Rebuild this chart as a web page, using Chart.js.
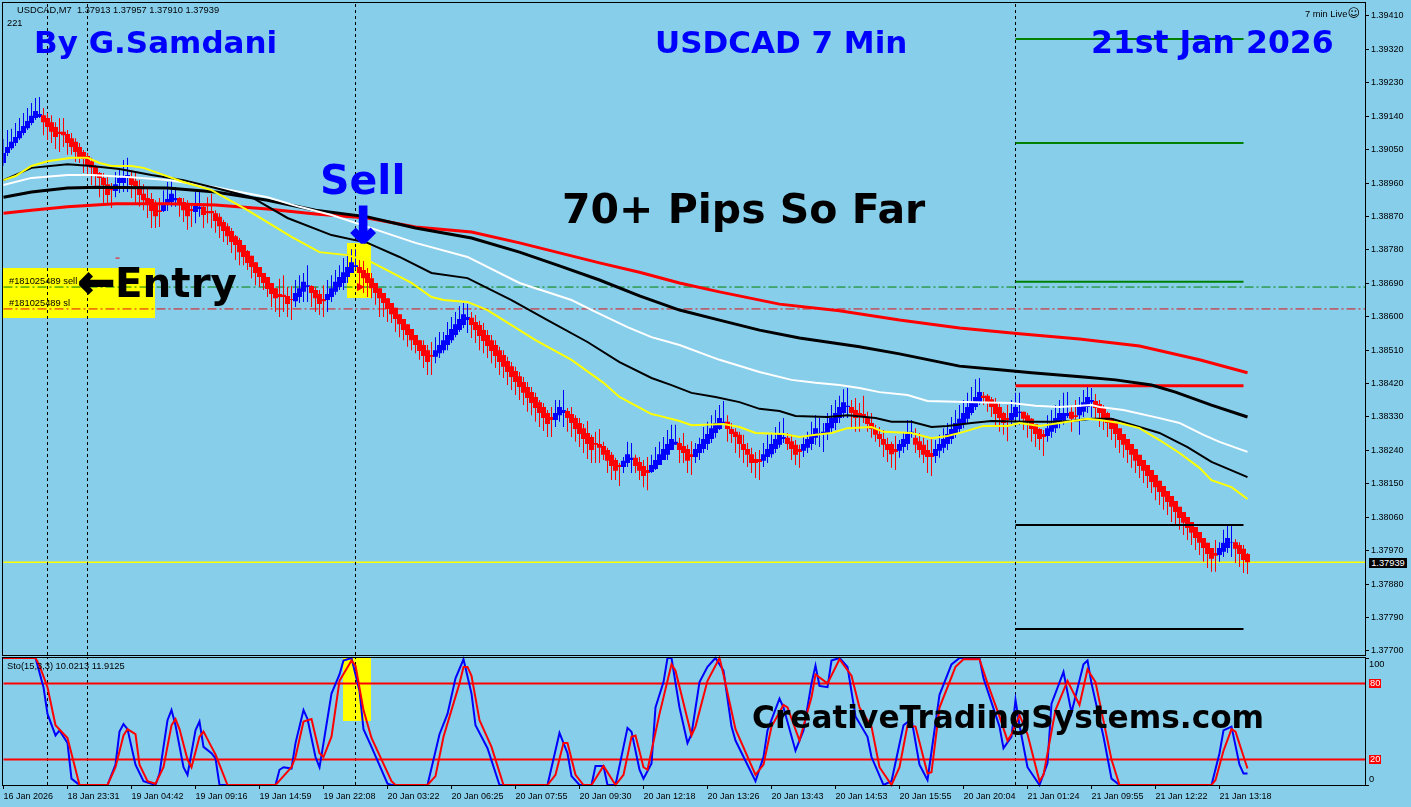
<!DOCTYPE html>
<html>
<head>
<meta charset="utf-8">
<title>USDCAD 7 Min</title>
<script src="https://cdn.jsdelivr.net/npm/chart.js@4/dist/chart.umd.min.js"></script>
<style>
  html, body { margin: 0; padding: 0; width: 1411px; height: 807px; overflow: hidden; background: #87ceeb; }
  canvas { position: absolute; left: 0; z-index: 2; }
  .box { position: absolute; background: #ffff00; z-index: 1; }
  .txt { position: absolute; white-space: nowrap; line-height: 1; z-index: 3; font-family: "Liberation Sans", Arial, sans-serif; }
  .big { font-family: "DejaVu Sans", sans-serif; font-weight: bold; }
  .small { font-size: 9.3px; color: #000; }
</style>
</head>
<body>
<div class="box" style="left:3px;top:268px;width:152px;height:50px"></div>
<div class="box" style="left:347px;top:243px;width:24px;height:55px"></div>
<div class="box" style="left:343px;top:657px;width:28px;height:64px"></div>
<canvas id="priceChart" width="1411" height="657" style="top:0"></canvas>
<canvas id="stoChart" width="1411" height="152" style="top:655px"></canvas>

<div class="txt small" style="left:17px;top:6px">USDCAD,M7&nbsp;&nbsp;1.37913 1.37957 1.37910 1.37939</div>
<div class="txt small" style="left:7px;top:19px">221</div>
<div class="txt small" style="left:1305px;top:7px">7 min Live<span style="font-family:'DejaVu Sans';font-size:12px">&#9786;</span></div>
<div class="txt small" style="left:7px;top:662px">Sto(15,3,3) 10.0213 11.9125</div>
<div class="txt small" style="left:9px;top:277px">#181025489 sell</div>
<div class="txt small" style="left:9px;top:299px">#181025489 sl</div>
<div class="txt small" style="left:1369px;top:558px;width:38px;height:10px;background:#000;color:#fff;text-align:center;line-height:10px">1.37939</div>
<div class="txt small" style="left:1369px;top:660px">100</div>
<div class="txt small" style="left:1369px;top:679px;background:#ff0000;color:#fff;padding:0 1px">80</div>
<div class="txt small" style="left:1369px;top:755px;background:#ff0000;color:#fff;padding:0 1px">20</div>
<div class="txt small" style="left:1369px;top:775px">0</div>

<div class="txt big" style="left:34px;top:27px;font-size:31px;color:#0000ff">By G.Samdani</div>
<div class="txt big" style="left:655px;top:27px;font-size:31px;color:#0000ff">USDCAD 7 Min</div>
<div class="txt big" style="left:1091px;top:27px;font-size:31.5px;color:#0000ff">21st Jan 2026</div>
<div class="txt big" style="left:320px;top:160px;font-size:41px;color:#0000ff">Sell</div>
<div class="txt big" style="left:562px;top:189px;font-size:41px;color:#000">70+ Pips So Far</div>
<div class="txt big" style="left:115px;top:263px;font-size:40.4px;color:#000">Entry</div>
<div class="txt big" style="left:752px;top:702px;font-size:31.2px;color:#000">CreativeTradingSystems.com</div>
<div class="txt big" style="left:78px;top:260px;font-size:44px;color:#000;-webkit-text-stroke:2px #000">&#8592;</div>
<div class="txt big" style="left:343px;top:201px;font-size:48px;color:#0000ff;-webkit-text-stroke:3px #0000ff">&#8595;</div>

<script>
// candles, in points above 1.37000
const opens = [2014,2041,2054,2068,2081,2095,2108,2122,2135,2138,
  2143,2135,2124,2111,2098,2098,2092,2081,2071,2057,
  2044,2033,2019,2003,1987,1974,1957,1947,1939,1960,
  1960,1974,1974,1966,1952,1931,1920,1917,1901,1887,
  1885,1901,1909,1914,1920,1909,1901,1890,1882,1890,
  1896,1885,1885,1879,1869,1855,1844,1831,1817,1807,
  1793,1777,1764,1747,1734,1718,1707,1691,1677,1661,
  1659,1656,1648,1642,1653,1667,1680,1683,1672,1661,
  1648,1645,1653,1667,1680,1691,1707,1718,1734,1734,
  1726,1718,1704,1691,1677,1664,1650,1637,1624,1607,
  1594,1580,1567,1551,1537,1524,1510,1497,1492,1502,
  1510,1524,1537,1551,1564,1578,1591,1597,1586,1578,
  1564,1551,1537,1524,1510,1497,1481,1467,1454,1440,
  1424,1411,1397,1384,1370,1357,1341,1330,1322,1335,
  1341,1346,1338,1327,1314,1300,1287,1276,1260,1257,
  1252,1241,1228,1214,1201,1195,1206,1214,1220,1209,
  1198,1187,1182,1190,1201,1214,1228,1241,1255,1260,
  1252,1244,1230,1222,1233,1244,1257,1271,1287,1298,
  1309,1317,1298,1290,1282,1257,1244,1230,1217,1217,
  1212,1222,1230,1244,1255,1271,1274,1265,1255,1244,
  1239,1247,1257,1274,1282,1284,1287,1300,1314,1327,
  1341,1357,1357,1349,1341,1338,1330,1314,1298,1284,
  1271,1257,1257,1244,1239,1249,1257,1284,1274,1265,
  1255,1241,1233,1225,1239,1247,1257,1271,1284,1298,
  1311,1325,1341,1357,1370,1387,1387,1378,1370,1357,
  1341,1327,1322,1330,1341,1344,1335,1325,1311,1298,
  1284,1279,1290,1300,1314,1322,1333,1344,1335,1335,
  1344,1357,1370,1373,1365,1354,1341,1327,1314,1300,
  1284,1271,1257,1244,1228,1214,1201,1187,1174,1158,
  1144,1131,1117,1104,1088,1074,1061,1047,1034,1020,
  1004,991,977,964,958,967,977,991,993,985,
  975,961];
const closes = [2041,2057,2071,2084,2100,2114,2127,2141,2154,2146,
  2124,2111,2098,2084,2092,2089,2068,2057,2044,2030,
  2025,2009,2001,1984,1974,1955,1928,1941,1957,1974,
  1976,1982,1955,1952,1928,1914,1901,1885,1871,1882,
  1906,1917,1931,1920,1901,1887,1871,1885,1898,1896,
  1874,1879,1879,1858,1844,1831,1817,1801,1793,1774,
  1761,1745,1734,1718,1707,1691,1675,1661,1650,1653,
  1653,1634,1645,1664,1677,1694,1685,1664,1650,1634,
  1642,1661,1677,1694,1707,1720,1734,1747,1739,1718,
  1704,1691,1677,1664,1650,1637,1621,1607,1594,1580,
  1564,1551,1537,1524,1508,1494,1478,1492,1510,1524,
  1537,1551,1567,1580,1594,1607,1599,1578,1564,1548,
  1535,1521,1508,1494,1478,1465,1451,1438,1424,1411,
  1395,1381,1368,1354,1341,1327,1311,1322,1341,1357,
  1349,1327,1314,1298,1284,1271,1257,1241,1255,1247,
  1228,1212,1198,1185,1195,1212,1230,1220,1198,1185,
  1171,1179,1201,1214,1230,1244,1257,1271,1263,1241,
  1233,1212,1222,1244,1257,1271,1284,1300,1314,1327,
  1317,1298,1284,1276,1257,1241,1228,1206,1206,1209,
  1230,1244,1257,1271,1284,1276,1257,1244,1228,1236,
  1257,1271,1282,1300,1287,1290,1314,1327,1341,1357,
  1370,1360,1341,1327,1333,1330,1311,1298,1282,1271,
  1255,1241,1230,1236,1257,1271,1284,1290,1255,1241,
  1228,1222,1222,1244,1257,1271,1284,1298,1314,1325,
  1341,1357,1370,1384,1397,1381,1370,1357,1338,1327,
  1314,1322,1341,1357,1344,1325,1317,1298,1284,1271,
  1276,1300,1314,1327,1341,1341,1341,1325,1330,1357,
  1370,1384,1376,1354,1341,1327,1314,1298,1284,1268,
  1255,1241,1228,1212,1198,1185,1171,1155,1141,1128,
  1115,1101,1088,1074,1058,1045,1031,1018,1004,991,
  977,961,948,956,977,991,1004,993,975,961,
  945,939];
const highs = [2079,2103,2106,2122,2135,2149,2162,2176,2189,2192,
  2162,2149,2143,2124,2135,2135,2103,2095,2081,2068,
  2049,2041,2028,2009,1990,1987,1976,1960,1990,1995,
  2022,2028,1995,1990,1968,1957,1949,1933,1914,1920,
  1941,1963,1968,1949,1922,1920,1914,1901,1936,1941,
  1906,1922,1931,1887,1879,1861,1852,1839,1820,1812,
  1793,1780,1764,1747,1734,1718,1707,1691,1677,1702,
  1712,1680,1683,1699,1712,1718,1739,1685,1680,1672,
  1685,1699,1712,1726,1739,1758,1769,1782,1782,1753,
  1753,1731,1718,1691,1677,1664,1650,1637,1624,1607,
  1594,1580,1567,1551,1537,1537,1524,1532,1545,1559,
  1559,1586,1599,1613,1629,1637,1634,1613,1605,1589,
  1583,1564,1551,1537,1519,1510,1492,1478,1465,1451,
  1438,1424,1411,1395,1376,1368,1349,1357,1376,1376,
  1403,1354,1357,1335,1327,1311,1319,1282,1290,1298,
  1263,1247,1236,1220,1206,1222,1263,1260,1228,1222,
  1214,1222,1228,1249,1263,1276,1295,1309,1309,1274,
  1287,1255,1265,1260,1274,1303,1317,1335,1349,1362,
  1373,1335,1314,1300,1290,1282,1260,1247,1236,1241,
  1260,1282,1287,1303,1317,1327,1287,1282,1268,1255,
  1276,1290,1317,1335,1327,1314,1341,1362,1376,1387,
  1405,1408,1376,1381,1368,1387,1344,1341,1309,1303,
  1295,1274,1263,1279,1268,1287,1322,1322,1300,1287,
  1274,1268,1274,1268,1282,1300,1314,1330,1349,1362,
  1376,1395,1411,1432,1435,1397,1392,1384,1381,1368,
  1344,1362,1376,1395,1395,1344,1341,1327,1311,1300,
  1295,1335,1349,1362,1376,1395,1397,1362,1376,1384,
  1403,1416,1408,1392,1376,1362,1344,1327,1314,1300,
  1284,1271,1257,1244,1228,1214,1201,1187,1174,1158,
  1144,1131,1117,1104,1088,1074,1061,1047,1034,1020,
  1004,991,977,999,993,1026,1039,1039,1001,993,
  985,964];
const lows = [2006,2033,2049,2060,2076,2089,2103,2116,2130,2135,
  2089,2076,2068,2052,2044,2057,2036,2036,2017,2014,
  1987,1979,1955,1949,1922,1906,1906,1893,1922,1933,
  1936,1936,1920,1906,1896,1887,1866,1839,1839,1842,
  1882,1885,1896,1896,1869,1855,1834,1842,1852,1869,
  1839,1852,1839,1826,1812,1801,1793,1772,1753,1739,
  1739,1726,1704,1685,1680,1672,1653,1626,1613,1599,
  1613,1599,1591,1626,1637,1640,1640,1626,1613,1605,
  1599,1613,1640,1659,1672,1672,1691,1718,1726,1680,
  1664,1653,1650,1632,1599,1599,1586,1583,1559,1545,
  1537,1519,1510,1502,1484,1462,1443,1443,1475,1489,
  1502,1510,1529,1545,1559,1570,1556,1543,1529,1510,
  1502,1489,1475,1462,1443,1435,1416,1403,1389,1376,
  1362,1344,1335,1317,1303,1292,1276,1276,1303,1317,
  1303,1290,1276,1263,1249,1233,1217,1206,1206,1206,
  1214,1179,1160,1160,1144,1179,1195,1179,1179,1160,
  1141,1133,1179,1187,1201,1214,1214,1241,1255,1206,
  1206,1179,1174,1206,1214,1233,1241,1260,1274,1295,
  1309,1263,1260,1233,1220,1206,1195,1179,1166,1160,
  1195,1206,1220,1233,1247,1260,1241,1214,1201,1193,
  1222,1233,1241,1255,1249,1236,1268,1287,1295,1314,
  1327,1327,1300,1290,1290,1314,1290,1274,1263,1249,
  1222,1209,1193,1187,1220,1233,1241,1274,1233,1220,
  1206,1179,1171,1206,1220,1233,1241,1257,1274,1287,
  1300,1314,1335,1349,1362,1362,1344,1330,1303,1290,
  1282,1265,1309,1322,1309,1295,1274,1263,1249,1241,
  1225,1263,1274,1287,1300,1309,1327,1290,1322,1282,
  1330,1341,1330,1322,1303,1295,1276,1268,1247,1233,
  1220,1206,1193,1179,1166,1152,1139,1125,1106,1093,
  1080,1066,1047,1039,1026,1012,999,985,972,958,
  940,923,913,913,940,953,964,953,937,926,
  910,907];

// moving averages, read at the bars listed in the *Bars arrays
const yellowBars = [0,3,7,11,17,21,24,27,32,35,45,52,61,72,79,86,92,102,107,110,116,121,133,142,150,154,162,164,169,172,180,184,188,195,199,203,207,211,217,220,227,232,236,240,245,251,254,259,264,271,274,279,284,289,294,299,302,307,311];
const yellowMA = [1968,1979,2006,2019,2028,2028,2014,2006,2006,2001,1963,1941,1887,1815,1774,1766,1747,1691,1653,1645,1640,1618,1537,1484,1422,1384,1338,1333,1319,1308,1311,1303,1287,1284,1276,1282,1287,1300,1303,1290,1287,1273,1279,1290,1306,1306,1314,1306,1314,1325,1322,1314,1300,1268,1233,1193,1160,1141,1109];
const thinBlackBars = [0,7,16,22,29,37,45,53,62,71,82,91,99,107,116,127,136,146,154,162,167,172,178,184,189,194,198,206,211,218,222,227,232,236,242,247,256,262,267,272,277,284,289,296,302,311];
const thinBlackMA = [1968,2001,2011,2006,1998,1982,1968,1947,1922,1866,1820,1799,1761,1718,1704,1645,1591,1532,1478,1435,1416,1395,1384,1370,1352,1346,1333,1330,1335,1327,1317,1317,1303,1306,1314,1319,1317,1317,1319,1325,1325,1303,1287,1249,1209,1168];
const whiteBars = [0,7,16,22,32,41,53,66,74,82,91,103,116,129,142,148,156,162,169,179,189,197,203,209,214,219,226,231,243,252,258,264,272,274,280,289,294,300,304,311];
const whiteMA = [1955,1974,1982,1982,1976,1968,1949,1922,1896,1874,1842,1799,1761,1691,1645,1613,1572,1545,1524,1484,1451,1430,1422,1416,1408,1397,1389,1373,1370,1368,1360,1357,1362,1357,1349,1327,1314,1282,1263,1236];
const thickBlackBars = [0,7,16,24,41,53,66,78,91,103,117,129,139,149,159,169,179,189,199,214,224,239,249,257,270,278,287,293,302,311];
const thickBlackMA = [1922,1936,1947,1949,1947,1936,1914,1887,1869,1839,1812,1774,1737,1699,1656,1618,1591,1564,1543,1519,1500,1467,1457,1449,1438,1430,1416,1397,1362,1330];
const redBars = [0,7,16,28,41,53,66,78,91,103,117,129,139,149,159,169,179,194,209,224,239,254,269,284,299,311];
const redMA = [1879,1887,1896,1904,1904,1901,1890,1877,1866,1842,1828,1799,1772,1745,1720,1691,1667,1634,1616,1591,1570,1554,1540,1521,1484,1449];

// levels on the last day
const greenLevels = [2348,2068,1694];
const redLevels = [1414];
const blackLevels = [1039,759];
const levelFrom = 253;
const levelTo = 310;
const bidLevel = 939;
const sellLevel = 1680;
const stopLevel = 1621;
const dashedBars = [11,21,88,253];
// trade markers
const arrowBar = 89;
const arrowLevel = 1680;
const tickBars = [28,29];
const tickLevel = 1758;

// stochastic
const kBars = [0,8,10,11,13,14,16,17,19,26,28,29,30,31,33,35,38,39,41,42,43,45,46,48,49,50,52,53,54,68,69,70,72,73,75,76,78,79,80,82,84,85,87,89,90,92,96,97,106,109,111,113,115,117,118,121,124,136,139,141,142,144,147,148,150,151,153,156,157,159,160,162,163,165,166,167,169,171,172,174,176,178,180,182,183,188,190,191,194,195,198,200,202,203,204,206,207,209,211,213,216,217,220,222,225,227,229,231,234,237,239,244,245,249,250,252,253,254,256,259,261,262,265,267,270,271,272,275,277,279,302,304,305,307,309,310,311];
const kLine = [100,100,77,56,39,43,33,5,0,0,16,42,48,44,16,3,0,9,51,59,47,14,8,43,50,30,25,21,0,0,12,14,13,33,59,52,22,14,33,72,87,98,100,74,44,30,1,0,0,40,56,84,99,72,47,29,0,0,41,25,7,0,0,15,15,0,0,45,42,12,5,17,61,81,100,100,61,33,40,81,93,100,90,46,35,3,22,43,68,61,27,43,80,94,78,77,98,100,93,54,38,22,0,3,47,52,16,4,71,95,100,100,84,46,29,38,67,47,14,0,17,64,89,57,95,98,80,38,5,0,0,25,43,46,16,9,9];
const dBars = [0,8,9,11,13,16,19,26,28,30,31,33,34,36,38,40,42,43,44,46,47,49,50,52,53,56,68,70,72,73,75,77,79,80,82,84,87,88,90,92,97,98,106,108,110,114,115,116,117,119,122,125,136,138,140,141,143,145,147,150,153,155,157,158,160,161,164,167,168,172,173,176,179,180,183,188,190,192,195,196,199,202,203,206,209,212,214,217,219,222,224,226,228,231,232,234,238,240,244,246,249,251,252,254,256,259,260,263,266,269,271,273,277,279,302,303,305,307,308,311];
const dLine = [100,100,94,77,47,37,0,0,14,39,44,40,16,3,1,14,47,52,44,20,14,38,42,30,24,0,0,7,14,22,50,52,25,22,38,82,98,94,59,37,3,0,0,7,38,80,93,93,86,51,30,0,0,8,33,33,8,0,0,15,0,8,38,39,14,12,56,95,90,39,46,82,100,87,44,8,16,46,63,61,35,69,87,80,99,86,61,46,14,0,14,47,46,9,10,61,93,99,99,80,54,35,40,55,40,3,8,59,82,63,91,81,20,0,0,4,27,44,42,13];
const stoLevels = [80,20];

// axes
const priceTicks = [1.3941,1.3932,1.3923,1.3914,1.3905,1.3896,1.3887,1.3878,1.3869,1.386,1.3851,1.3842,1.3833,1.3824,1.3815,1.3806,1.3797,1.3788,1.3779,1.377];
const xTickBars = [0,16,32,48,64,80,96,112,128,144,160,176,192,208,224,240,256,272,288,304];
const xTickLabels = ['16 Jan 2026','18 Jan 23:31','19 Jan 04:42','19 Jan 09:16','19 Jan 14:59','19 Jan 22:08','20 Jan 03:22','20 Jan 06:25','20 Jan 07:55','20 Jan 09:30','20 Jan 12:18','20 Jan 13:26','20 Jan 13:43','20 Jan 14:53','20 Jan 15:55','20 Jan 20:04','21 Jan 01:24','21 Jan 09:55','21 Jan 12:22','21 Jan 13:18'];

const BLUE = '#0000ff';
const RED = '#ff0000';
const PRICE_MIN = 1.37689;
const PRICE_MAX = 1.39445;
const X_MAX = 340.375;
const AXIS_FONT = { family: '"Liberation Sans", Arial, sans-serif', size: 9 };

const price = p => 1.37 + p / 100000;
const zip = (xs, ys) => xs.map((x, i) => ({ x: x, y: ys[i] }));
const candleColors = opens.map((o, i) => (closes[i] >= o ? BLUE : RED));

const line = (data, color, width, order, dash) => ({
    type: 'line',
    data: data,
    borderColor: color,
    borderWidth: width,
    borderDash: dash || [],
    pointRadius: 0,
    tension: 0,
    fill: false,
    order: order,
    clip: 2
});
const maLine = (bars, values, color, width, order) =>
    line(zip(bars, values.map(price)), color, width, order);
const level = (value, color, width, order) =>
    line([{ x: levelFrom, y: price(value) }, { x: levelTo, y: price(value) }], color, width, order);
const fullLine = (value, color, width, order, dash) =>
    line([{ x: 0, y: value }, { x: X_MAX, y: value }], color, width, order, dash);

// black frame around a panel
const framePlugin = {
    id: 'frame',
    afterDraw(chart) {
        const { ctx, chartArea: a } = chart;
        ctx.save();
        ctx.strokeStyle = '#000';
        ctx.lineWidth = 1;
        ctx.strokeRect(2.5, a.top - 0.5, a.right - 2, a.bottom - a.top + 1);
        ctx.restore();
    }
};

// the panels must keep fixed sizes, whatever the tick labels measure
const fixAxis = (width, height) => scale => {
    if (width) scale.width = width;
    if (height) scale.height = height;
    scale.paddingTop = 0;
    scale.paddingBottom = 0;
    scale.paddingLeft = 0;
    scale.paddingRight = 0;
};

const baseX = {
    type: 'linear',
    min: 0,
    max: X_MAX,
    offset: false
};

new Chart(document.getElementById('priceChart'), {
    type: 'bar',
    plugins: [framePlugin],
    data: {
        datasets: [
            {
                data: highs.map((h, i) => ({ x: i, y: [price(lows[i]), price(h)] })),
                backgroundColor: candleColors,
                barThickness: 1,
                barPercentage: 1,
                categoryPercentage: 1,
                grouped: false,
                inflateAmount: 0,
                order: 21
            },
            {
                data: opens.map((o, i) => ({ x: i, y: [price(o), price(closes[i])] })),
                backgroundColor: candleColors,
                barThickness: 5,
                barPercentage: 1.25,
                categoryPercentage: 1,
                grouped: false,
                inflateAmount: 0,
                order: 20
            },
            fullLine(price(sellLevel), '#008000', 1, 25, [9, 3, 2, 3]),
            fullLine(price(stopLevel), '#e01010', 1, 25, [9, 3, 2, 3]),
            fullLine(price(bidLevel), '#ffff00', 1.5, 24),
            ...dashedBars.map(b => line([{ x: b, y: PRICE_MIN }, { x: b, y: PRICE_MAX }], '#000', 1, 23, [3, 3])),
            ...greenLevels.map(v => level(v, '#008000', 2, 6)),
            ...redLevels.map(v => level(v, RED, 3, 6)),
            ...blackLevels.map(v => level(v, '#000', 2, 6)),
            line(tickBars.map(b => ({ x: b, y: price(tickLevel) })), RED, 1, 6),
            Object.assign(line([{ x: arrowBar, y: price(arrowLevel) }], RED, 1, 6), {
                pointRadius: 4,
                pointStyle: 'triangle',
                rotation: 90,
                pointBackgroundColor: RED,
                pointBorderColor: RED
            }),
            maLine(redBars, redMA, RED, 3, 5),
            maLine(thickBlackBars, thickBlackMA, '#000', 3, 4),
            maLine(whiteBars, whiteMA, '#fff', 2, 3),
            maLine(thinBlackBars, thinBlackMA, '#000', 2, 2),
            maLine(yellowBars, yellowMA, '#ffff00', 2, 1)
        ]
    },
    options: {
        responsive: false,
        animation: false,
        events: [],
        layout: { autoPadding: false, padding: { left: 3.5, top: 3, right: 0, bottom: 2 } },
        plugins: { legend: { display: false }, tooltip: { enabled: false } },
        scales: {
            x: Object.assign({}, baseX, { display: false, grid: { offset: false } }),
            y: {
                position: 'right',
                min: PRICE_MIN,
                max: PRICE_MAX,
                afterFit: fixAxis(46, 0),
                afterBuildTicks(scale) { scale.ticks = priceTicks.map(v => ({ value: v })); },
                border: { display: false },
                grid: { drawOnChartArea: false, tickLength: 4, color: '#000', tickWidth: 1 },
                ticks: {
                    color: '#000',
                    font: AXIS_FONT,
                    padding: 2,
                    callback: v => v.toFixed(5)
                }
            }
        }
    }
});

new Chart(document.getElementById('stoChart'), {
    type: 'line',
    plugins: [framePlugin],
    data: {
        datasets: [
            line(zip(dBars, dLine), RED, 2, 1),
            line(zip(kBars, kLine), BLUE, 2, 2),
            ...stoLevels.map(v => fullLine(v, RED, 2, 3)),
            ...dashedBars.map(b => line([{ x: b, y: 0 }, { x: b, y: 100 }], '#000', 1, 4, [3, 3]))
        ]
    },
    options: {
        responsive: false,
        animation: false,
        events: [],
        layout: { autoPadding: false, padding: { left: 3.5, top: 3, right: 0, bottom: 0 } },
        plugins: { legend: { display: false }, tooltip: { enabled: false } },
        scales: {
            x: Object.assign({}, baseX, {
                afterFit: fixAxis(0, 22),
                afterBuildTicks(scale) { scale.ticks = xTickBars.map(v => ({ value: v })); },
                border: { display: false },
                grid: { drawOnChartArea: false, tickLength: 4, color: '#000', offset: false },
                ticks: {
                    color: '#000',
                    font: AXIS_FONT,
                    align: 'start',
                    padding: 2,
                    maxRotation: 0,
                    autoSkip: false,
                    callback: (v, i) => xTickLabels[i]
                }
            }),
            y: {
                position: 'right',
                min: 0,
                max: 100,
                afterFit: fixAxis(46, 0),
                afterBuildTicks(scale) { scale.ticks = [{ value: 100 }, { value: 0 }]; },
                border: { display: false },
                grid: { drawOnChartArea: false, tickLength: 4, color: '#000' },
                ticks: { display: true, callback: () => '' }
            }
        }
    }
});
</script>
</body>
</html>
